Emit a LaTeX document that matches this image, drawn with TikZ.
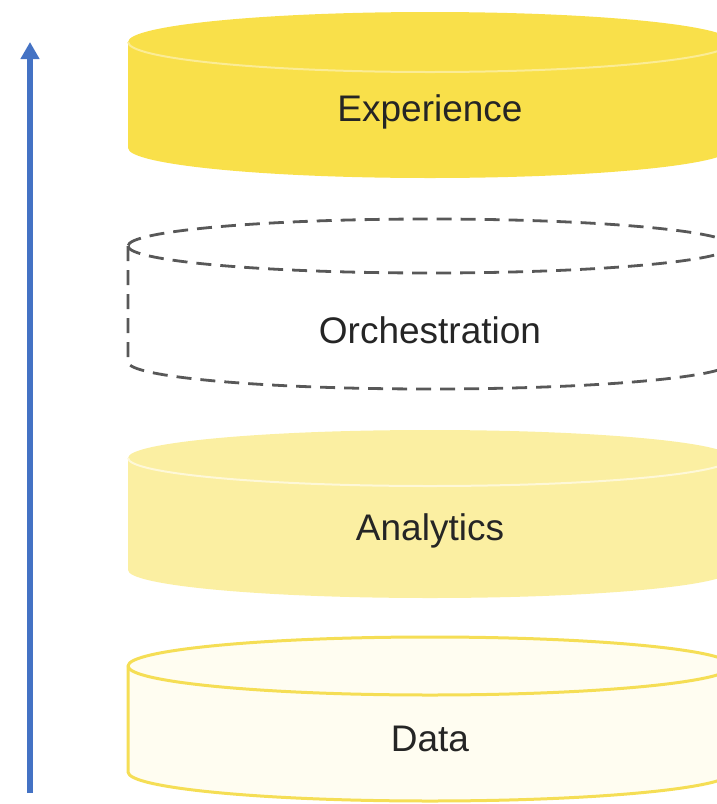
\documentclass[tikz,border=0pt]{standalone}
\usepackage{fontspec}
\setmainfont{Liberation Sans}
\usetikzlibrary{arrows.meta}

\definecolor{expfill}{HTML}{F9E04A}
\definecolor{expline}{HTML}{FBEC95}
\definecolor{anafill}{HTML}{FBEFA2}
\definecolor{analine}{HTML}{FEF8D8}
\definecolor{datafill}{HTML}{FFFDF1}
\definecolor{dataline}{HTML}{F5DE55}
\definecolor{orchline}{HTML}{585858}
\definecolor{txt}{HTML}{252525}
\definecolor{arrowblue}{HTML}{4472C4}

\tikzset{
  layertext/.style={font=\fontsize{37}{42}\selectfont, text=txt, inner sep=0pt,
    anchor=base},
  dashrim/.style={draw=orchline, line width=2.8pt, dash pattern=on 15pt off 9pt},
  ribbon/.style={line width=6pt, draw=arrowblue,
    -{Triangle[width=18pt,length=17pt]}},
}

% cylinder body: #2 = top ellipse centre (px), #3 = bottom ellipse centre (px), #4 = y radius
\newcommand{\cylbody}[4][]{%
  \path[#1] (128,-#2) -- (128,-#3)
    arc[start angle=180, end angle=360, x radius=302pt, y radius=#4 pt]
    -- (732,-#2)
    arc[start angle=0, end angle=180, x radius=302pt, y radius=#4 pt] -- cycle;}
% front half of the top ellipse
\newcommand{\cylrim}[3][]{%
  \path[#1] (128,-#2)
    arc[start angle=180, end angle=360, x radius=302pt, y radius=#3 pt];}

\begin{document}
\begin{tikzpicture}[x=1pt, y=1pt]
  \useasboundingbox (0,0) rectangle (717,-804);
  \begin{scope}
    \clip (0,0) rectangle (717,-804);

    % Experience
    \cylbody[fill=expfill]{42}{148}{30}
    \cylrim[draw=expline, line width=2pt]{42}{30}

    % Orchestration (dashed outline only)
    \cylbody[dashrim]{246}{362}{27}
    \cylrim[dashrim]{246}{27}

    % Analytics
    \cylbody[fill=anafill]{458}{570}{28}
    \cylrim[draw=analine, line width=2pt]{458}{28}

    % Data
    \cylbody[fill=datafill, draw=dataline, line width=3pt]{666}{772}{29}
    \cylrim[draw=dataline, line width=3pt]{666}{29}
  \end{scope}

  % labels placed on their baselines
  \node[layertext] (experience) at (430,-121) {Experience};
  \node[layertext] (orchestration) at (430,-343) {Orchestration};
  \node[layertext] (analytics) at (430,-540) {Analytics};
  \node[layertext] (data) at (430,-751) {Data};

  % upward arrow along the stack
  \coordinate (arrowbase) at (30,-793);
  \coordinate (arrowtip) at (30,-42);
  \draw[ribbon] (arrowbase) -- (arrowtip);
\end{tikzpicture}
\end{document}
